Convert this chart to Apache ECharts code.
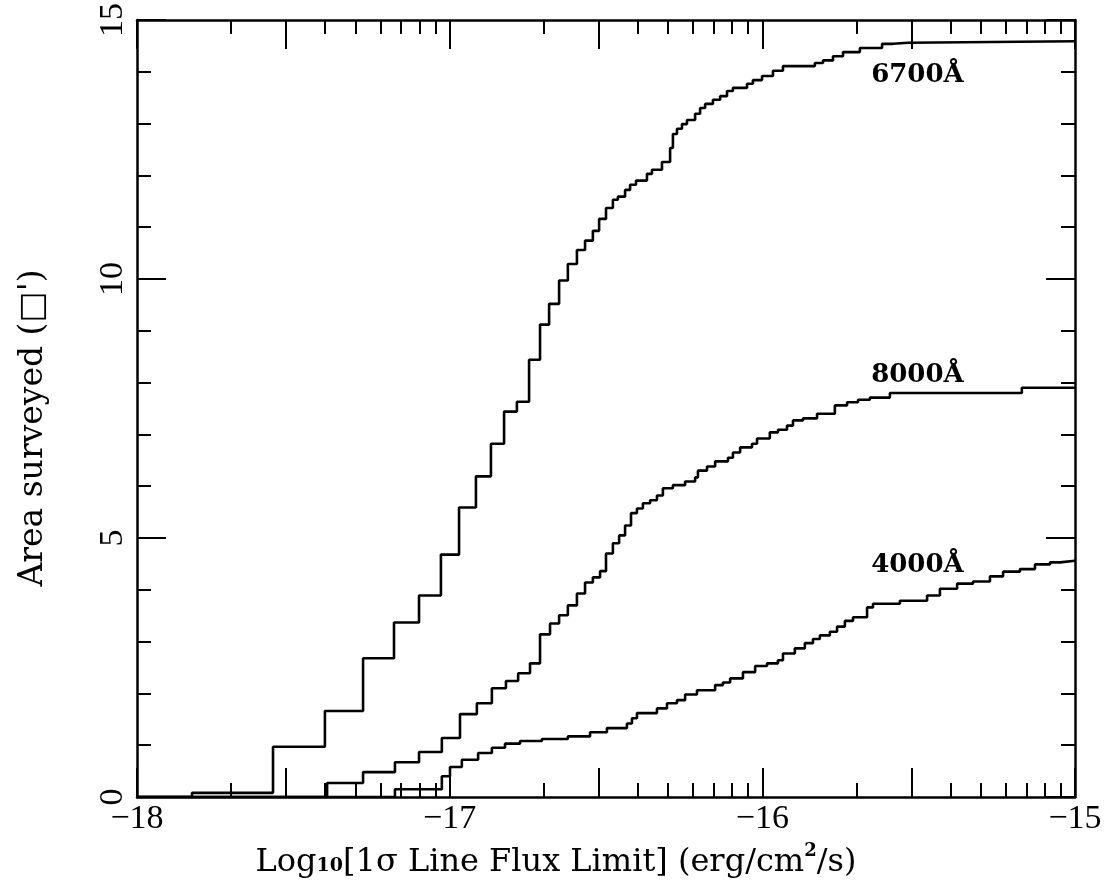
<!DOCTYPE html>
<html>
<head>
<meta charset="utf-8">
<script src="https://cdn.jsdelivr.net/npm/echarts@6/dist/echarts.min.js"></script>
<style>
  html, body { margin: 0; padding: 0; background: #fff; }
  #chart { width: 1112px; height: 896px; }
</style>
</head>
<body>
<div id="chart"></div>
<script>
// Cumulative survey area versus 1-sigma line flux limit, three wavelengths.
const flux6700 = [-18, -17.824, -17.565, -17.399, -17.277, -17.178, -17.098, -17.028, -16.970, -16.916,
  -16.868, -16.826, -16.785, -16.746, -16.711, -16.682, -16.650, -16.622, -16.593, -16.567,
  -16.542, -16.522, -16.500, -16.478, -16.462, -16.439, -16.423, -16.404, -16.369, -16.353,
  -16.321, -16.295, -16.286, -16.273, -16.257, -16.241, -16.215, -16.199, -16.183, -16.158,
  -16.135, -16.113, -16.094, -16.049, -16.030, -16.001, -15.966, -15.934, -15.832, -15.806,
  -15.774, -15.742, -15.688, -15.617, -15.582, -15.534, -15.000];
const area6700 = [0, 0.08, 0.97, 1.66, 2.68, 3.37, 3.89, 4.68, 5.59, 6.19,
  6.82, 7.44, 7.63, 8.44, 9.12, 9.52, 9.97, 10.29, 10.56, 10.74,
  10.93, 11.16, 11.37, 11.53, 11.59, 11.72, 11.82, 11.90, 12.03, 12.11,
  12.26, 12.53, 12.80, 12.90, 12.99, 13.07, 13.19, 13.30, 13.38, 13.46,
  13.53, 13.63, 13.69, 13.77, 13.84, 13.92, 14.02, 14.11, 14.17, 14.22,
  14.30, 14.38, 14.46, 14.54, 14.56, 14.59, 14.59];

const flux8000 = [-18, -17.392, -17.277, -17.175, -17.098, -17.025, -16.967, -16.913, -16.865, -16.820,
  -16.781, -16.743, -16.711, -16.679, -16.650, -16.622, -16.593, -16.567, -16.542, -16.519,
  -16.500, -16.478, -16.458, -16.439, -16.420, -16.401, -16.382, -16.359, -16.337, -16.318,
  -16.286, -16.247, -16.215, -16.206, -16.177, -16.151, -16.110, -16.094, -16.071, -16.033,
  -16.017, -15.976, -15.950, -15.921, -15.902, -15.870, -15.825, -15.768, -15.729, -15.694,
  -15.656, -15.592, -15.170, -15.000];
const area8000 = [0, 0.27, 0.48, 0.67, 0.87, 1.14, 1.60, 1.81, 2.10, 2.24,
  2.39, 2.58, 3.14, 3.35, 3.51, 3.70, 3.93, 4.14, 4.24, 4.36,
  4.70, 4.90, 5.05, 5.24, 5.48, 5.57, 5.67, 5.73, 5.82, 5.96,
  6.02, 6.09, 6.17, 6.30, 6.38, 6.48, 6.55, 6.65, 6.75, 6.82,
  6.92, 7.04, 7.09, 7.17, 7.27, 7.31, 7.40, 7.56, 7.62, 7.67,
  7.71, 7.80, 7.90, 7.90];

const flux4000 = [-18, -17.175, -17.025, -16.999, -16.961, -16.909, -16.865, -16.823, -16.775, -16.705,
  -16.622, -16.551, -16.497, -16.433, -16.417, -16.401, -16.337, -16.305, -16.273, -16.247,
  -16.209, -16.151, -16.126, -16.103, -16.062, -16.023, -15.985, -15.950, -15.934, -15.896,
  -15.864, -15.838, -15.816, -15.784, -15.761, -15.736, -15.710, -15.665, -15.646, -15.560,
  -15.473, -15.432, -15.377, -15.326, -15.272, -15.230, -15.176, -15.128, -15.080, -15.048,
  -15.000];
const area4000 = [0, 0.15, 0.40, 0.58, 0.72, 0.85, 0.95, 1.03, 1.08, 1.12,
  1.17, 1.25, 1.33, 1.42, 1.52, 1.62, 1.71, 1.81, 1.87, 1.98,
  2.06, 2.16, 2.21, 2.29, 2.41, 2.53, 2.58, 2.64, 2.77, 2.87,
  2.97, 3.05, 3.12, 3.19, 3.29, 3.40, 3.47, 3.66, 3.73, 3.79,
  3.89, 4.02, 4.12, 4.16, 4.26, 4.35, 4.40, 4.49, 4.53, 4.56,
  4.56];

// Curve names and where each name sits (flux, area at the text's bottom edge)
const seriesNames = ['6700Å', '8000Å', '4000Å'];
const nameAnchors = [[-15.652, 13.69], [-15.652, 7.90], [-15.652, 4.22]];

// Axis ranges and tick labels
const xRange = [-18, -15];
const yRange = [0, 15];
const xLabelValues = [-18, -17, -16, -15];
const decades = [-18, -17, -16];
// logarithmic sub-ticks within each decade (2..9); the "3" tick is drawn long
const longSub = [3];
const shortSub = [2, 4, 5, 6, 7, 8, 9];

const longTicks = xLabelValues.concat(
  decades.flatMap(d => longSub.map(k => d + Math.log10(k))));
const shortTicks = decades.flatMap(d => shortSub.map(k => d + Math.log10(k)));

const zip = (xs, ys) => xs.map((x, i) => [x, ys[i]]);

const INK = '#000';
const SERIF = '"Liberation Serif", "Times New Roman", serif';
const WIDE_SERIF = '"DejaVu Serif", serif';

function xAxisDef(position, ticks, len, showLine, labels) {
  return {
    type: 'value', gridIndex: 0, position: position,
    min: xRange[0], max: xRange[1],
    axisLine: { show: showLine, onZero: false, lineStyle: { color: INK, width: 2.5 } },
    axisTick: { show: true, inside: true, length: len, customValues: ticks,
      lineStyle: { color: INK, width: 2 } },
    axisLabel: labels ? {
      show: true, customValues: xLabelValues, margin: 5,
      color: INK, fontFamily: SERIF, fontSize: 34,
      formatter: v => String(v).replace('-', '\u2212')
    } : { show: false },
    splitLine: { show: false }
  };
}

function yAxisDef(position, labels) {
  return {
    type: 'value', position: position,
    min: yRange[0], max: yRange[1], interval: 5,
    axisLine: { show: true, onZero: false, lineStyle: { color: INK, width: 2.5 } },
    axisTick: { show: true, inside: true, length: 29, lineStyle: { color: INK, width: 2 } },
    minorTick: { show: true, splitNumber: 5, length: 14, lineStyle: { color: INK, width: 2 } },
    axisLabel: labels ? {
      show: true, rotate: 90, margin: 7,
      color: INK, fontFamily: SERIF, fontSize: 34
    } : { show: false },
    splitLine: { show: false },
    minorSplitLine: { show: false }
  };
}

function curve(name, xs, ys, anchor) {
  return {
    name: name, type: 'line', step: 'end',
    xAxisIndex: 0, yAxisIndex: 0,
    data: zip(xs, ys),
    showSymbol: false, symbol: 'none',
    lineStyle: { color: INK, width: 2.6 },
    silent: true, animation: false,
    markPoint: {
      symbol: 'circle', symbolSize: 0, silent: true, animation: false,
      data: [{ coord: anchor, name: name }],
      label: {
        show: true, position: [0, 0], align: 'left', verticalAlign: 'bottom',
        formatter: name, color: INK,
        fontFamily: WIDE_SERIF, fontWeight: 'bold', fontSize: 26
      }
    }
  };
}

const chart = echarts.init(document.getElementById('chart'), null, { renderer: 'canvas' });

chart.setOption({
  backgroundColor: '#fff',
  animation: false,
  grid: { left: 137, right: 37, top: 19, bottom: 99, containLabel: false },
  xAxis: [
    xAxisDef('bottom', longTicks, 29, true, true),
    xAxisDef('bottom', shortTicks, 14, false, false),
    xAxisDef('top', longTicks, 29, true, false),
    xAxisDef('top', shortTicks, 14, false, false)
  ],
  yAxis: [
    yAxisDef('left', true),
    yAxisDef('right', false)
  ],
  series: [
    curve(seriesNames[0], flux6700, area6700, nameAnchors[0]),
    curve(seriesNames[1], flux8000, area8000, nameAnchors[1]),
    curve(seriesNames[2], flux4000, area4000, nameAnchors[2])
  ],
  graphic: [
    {
      type: 'text', x: 556, y: 858,
      style: {
        text: '{a|Log}{s|10}{a|[1σ Line Flux Limit] (erg/cm}{p|2}{a|/s)}',
        align: 'center', verticalAlign: 'middle', fill: INK,
        rich: {
          a: { fontFamily: WIDE_SERIF, fontSize: 32, fill: INK, lineHeight: 42, verticalAlign: 'bottom' },
          s: { fontFamily: WIDE_SERIF, fontSize: 19, fontWeight: 'bold', fill: INK, lineHeight: 42, verticalAlign: 'bottom', padding: [0, 0, 3, 0] },
          p: { fontFamily: WIDE_SERIF, fontSize: 18, fontWeight: 'bold', fill: INK, lineHeight: 42, verticalAlign: 'top', padding: [5, 0, 0, 0] }
        }
      }
    },
    {
      type: 'text', x: 33, y: 428, rotation: Math.PI / 2,
      style: {
        text: 'Area surveyed (□\')',
        align: 'center', verticalAlign: 'middle', fill: INK,
        fontFamily: WIDE_SERIF, fontSize: 33
      }
    }
  ]
});
</script>
</body>
</html>
